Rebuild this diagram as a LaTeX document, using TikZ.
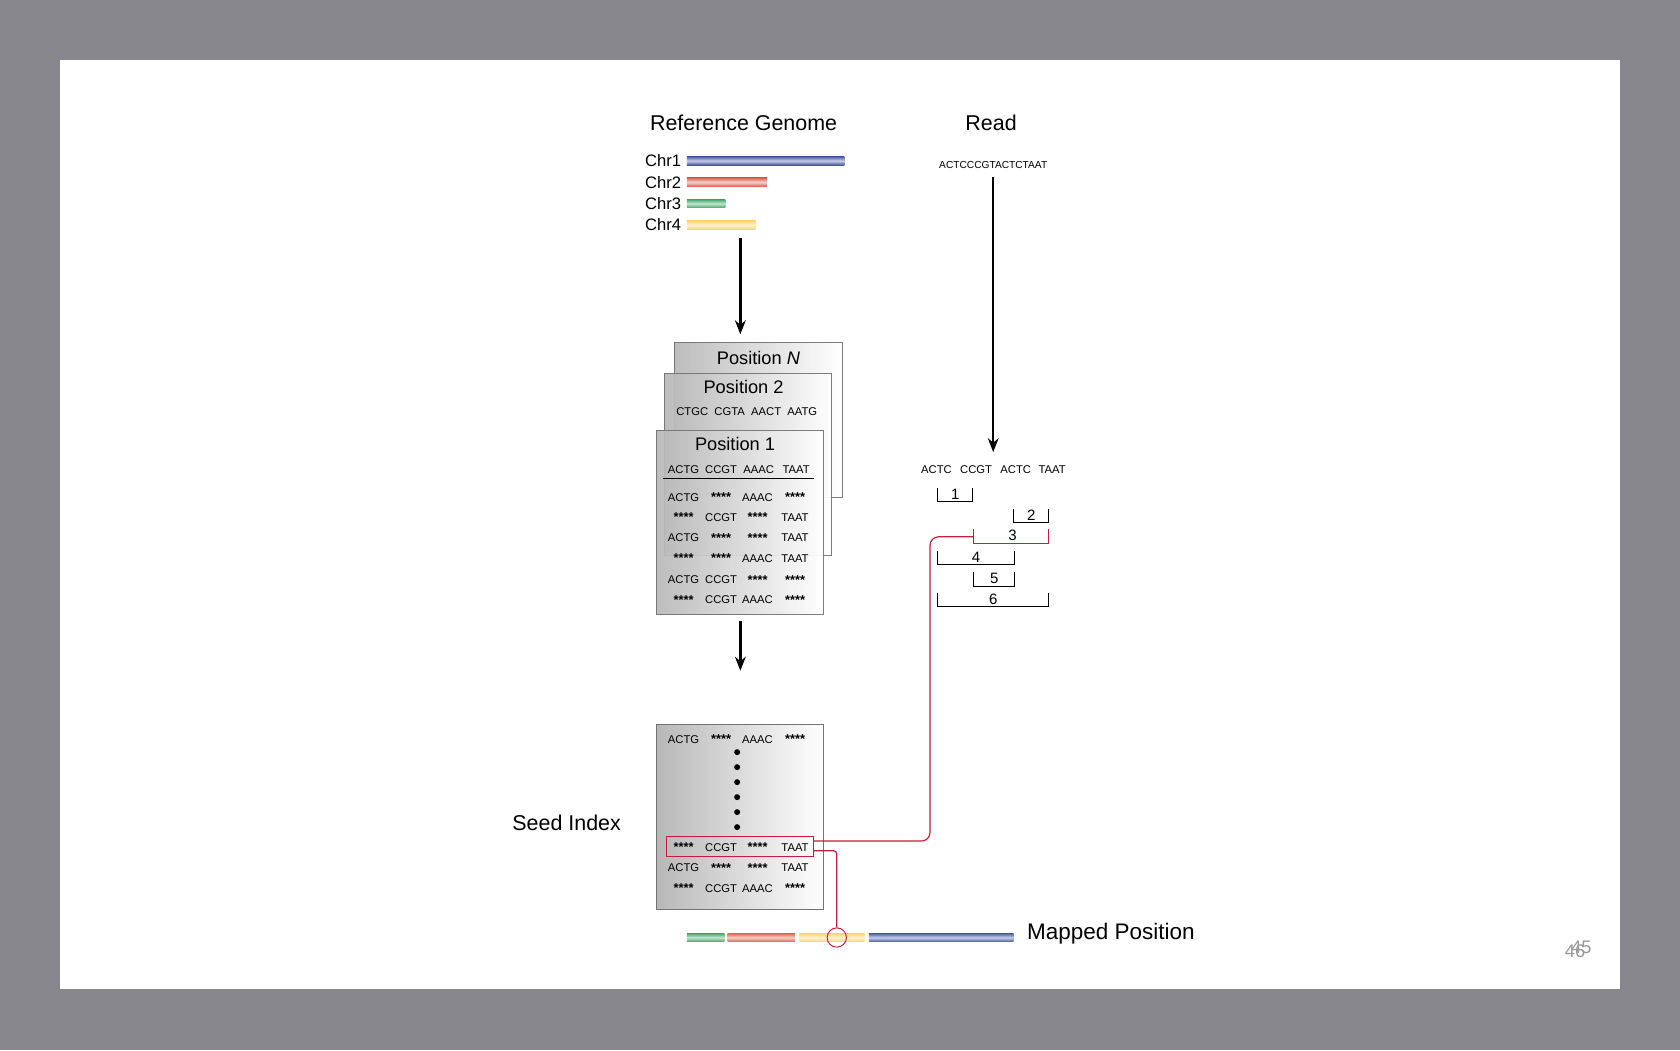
\documentclass[tikz,border=0pt]{standalone}
\usepackage{fontspec}
\setmainfont{Liberation Sans}
\usetikzlibrary{positioning,calc,arrows.meta}

\definecolor{chrblue}{RGB}{72,92,160}
\definecolor{chrred}{RGB}{222,98,82}
\definecolor{chrgreen}{RGB}{62,168,102}
\definecolor{chryellow}{RGB}{246,214,110}
\definecolor{hitred}{RGB}{196,30,58}
\definecolor{slide}{RGB}{136,135,141}

\newcommand{\stars}{\raisebox{-2.5pt}{\fontsize{12}{12}\selectfont\textbf{****}}}

\begin{document}
\begin{tikzpicture}[x=1pt, y=-1pt]

\tikzstyle{card}=[draw=black!55, line width=0.8pt, left color=black!28, right color=white, opacity=0.92, anchor=north west, inner sep=0pt]
\tikzstyle{title}=[font=\fontsize{17}{17}\selectfont]
\tikzstyle{seq}=[font=\fontsize{10.5}{11}\selectfont, inner sep=0pt]
\tikzstyle{chr}=[font=\fontsize{15.5}{16}\selectfont, anchor=east, inner sep=1pt]
\tikzstyle{pil}=[-{Stealth[length=13pt,width=10pt]}, line width=2.2pt]
\tikzstyle{brk}=[line width=1pt]
\tikzstyle{num}=[font=\fontsize{14}{14}\selectfont, inner sep=0pt]
\tikzstyle{link}=[hitred, line width=1.1pt]

% frame
\useasboundingbox (0,0) rectangle (1568,980);
\fill[slide] (0,0) rectangle (1568,980);
\fill[white] (56,56) rectangle (1512,923);

% headings
\node[font=\fontsize{20}{20}\selectfont] (refgen) at (694,115) {Reference Genome};
\node[font=\fontsize{20}{20}\selectfont] (read) at (925,115) {Read};

% chromosomes
\foreach \n/\len/\col [count=\i] in {1/147/chrblue, 2/75/chrred, 3/36/chrgreen, 4/64/chryellow} {
  \node[chr] (chr\n) at (637,130+20*\i) {Chr\n};
  \shade[top color=\col, bottom color=\col, middle color=\col!30] (641,126+20*\i) rectangle (641+\len,134+20*\i);
}

% read
\node[font=\fontsize{9.5}{10}\selectfont] (readseq) at (927,154) {ACTCCCGTACTCTAAT};
\node[seq] (ra) at (874,438) {ACTC};
\node[seq] (rb) at (911,438) {CCGT};
\node[seq] (rc) at (948,438) {ACTC};
\node[seq] (rd) at (982,438) {TAAT};
\draw[pil] (readseq.south) ++(0,4) coordinate (rtop) -- (927,422) coordinate (rbot);

% seeds of the read
\foreach \a/\b/\y/\t in {875/908/455/1, 946/979/475/2, 875/947/514/4, 909/947/534/5, 875/979/553/6} {
  \draw[brk] (\a,\y) |- (\b,\y+13) -- (\b,\y);
  \node[num] (s\t) at ({(\a+\b)/2},\y+6) {\t};
}
\draw[brk, hitred] (909,494) |- (979,507) -- (979,494);
\node[num] (s3) at (945,500) {3};
\coordinate (b3l) at (909,501);

% index building
\coordinate (gen) at (691,222);
\draw[pil] (gen) -- (691,312);

\node[card, minimum width=157pt, minimum height=145pt] (posN) at (629,319) {};
\node[title, below=5pt of posN.north] (tN) {Position \textit{N}};
\node[card, minimum width=156pt, minimum height=170pt] (pos2) at (620,348) {};
\node[title] (t2) at (694,361) {Position 2};
\node[seq] (r2) at (697,384) {CTGC\ \ CGTA\ \ AACT\ \ AATG};
\node[card, minimum width=156pt, minimum height=172pt] (pos1) at (612,401) {};
\node[title] (t1) at (686,414) {Position 1};
\foreach \w [count=\i] in {ACTG, CCGT, AAAC, TAAT}
  \node[seq] (h\i) at (603+35*\i,438) {\w};
\draw[line width=0.9pt] (619,447) -- (760,447);
\foreach \y/\a/\b/\c/\d in {464/ACTG/\stars/AAAC/\stars, 483/\stars/CCGT/\stars/TAAT, 502/ACTG/\stars/\stars/TAAT,
    521/\stars/\stars/AAAC/TAAT, 541/ACTG/CCGT/\stars/\stars, 560/\stars/CCGT/AAAC/\stars} {
  \node[seq] at (638,\y) {\a};
  \node[seq] at (673,\y) {\b};
  \node[seq] at (707,\y) {\c};
  \node[seq] at (742,\y) {\d};
}

\draw[pil] (691,580) -- (691,626);

% seed index
\node[card, opacity=1, minimum width=156pt, minimum height=172pt] (index) at (612,676) {};
\node[font=\fontsize{20}{20}\selectfont, anchor=east] (seedlbl) at (583,768) {Seed Index};
\foreach \y/\a/\b/\c/\d in {690/ACTG/\stars/AAAC/\stars, 791/\stars/CCGT/\stars/TAAT, 810/ACTG/\stars/\stars/TAAT, 829/\stars/CCGT/AAAC/\stars} {
  \node[seq] at (638,\y) {\a};
  \node[seq] at (673,\y) {\b};
  \node[seq] at (707,\y) {\c};
  \node[seq] at (742,\y) {\d};
}
\foreach \i in {0,...,5}
  \fill (688,702+14*\i) circle (2.8pt);
\node[draw=hitred, line width=0.9pt, minimum width=137pt, minimum height=18pt, inner sep=0pt] (hit) at (690.5,790) {};

% mapped genome
\foreach \a/\b/\col in {641/676/chrgreen, 679/742/chrred, 746/807/chryellow, 811/946/chrblue}
  \shade[top color=\col, bottom color=\col, middle color=\col!30] (\a,871) rectangle (\b,879);
\node[draw=hitred, line width=0.9pt, circle, minimum size=18pt, inner sep=0pt] (pin) at (781,875) {};
\node[font=\fontsize{21}{21}\selectfont, anchor=west] (mapped) at (955,871) {Mapped Position};

% links
\draw[link, rounded corners=8pt] (b3l) -- (868,501) |- ($(hit.east)+(0,-5)$);
\draw[link, rounded corners=3pt] ($(hit.east)+(0,4)$) -| (pin.north);

% page number
\node[black!40, font=\fontsize{17}{17}\selectfont] (pg1) at (1470,888) {46};
\node[black!40, font=\fontsize{17}{17}\selectfont] (pg2) at (1476,884) {45};

\end{tikzpicture}
\end{document}
